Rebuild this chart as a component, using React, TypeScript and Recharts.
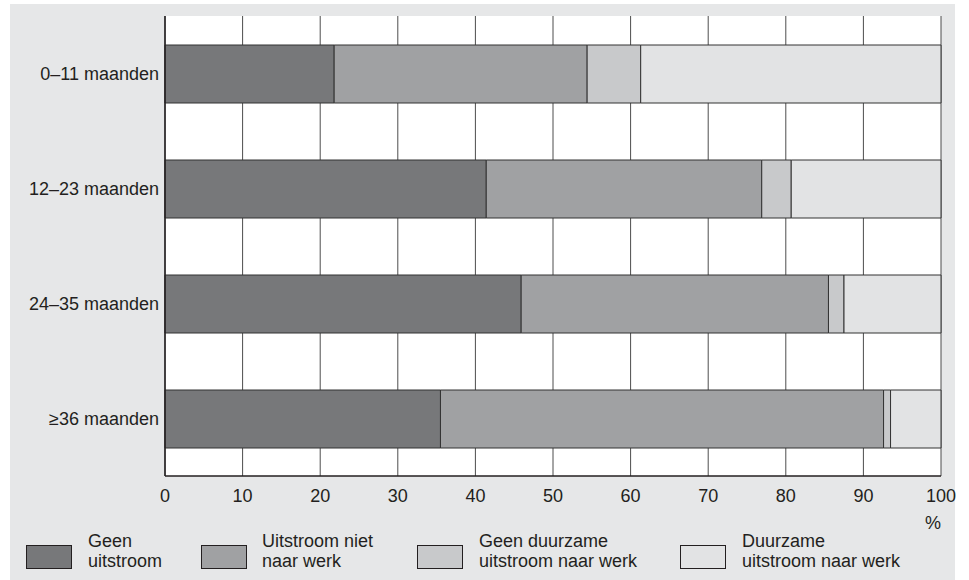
import React from "react";
import { BarChart, Bar, XAxis, YAxis, CartesianGrid } from "recharts";

const categories = ["0–11 maanden", "12–23 maanden", "24–35 maanden", "≥36 maanden"];
const geenUitstroom = [21.8, 41.4, 45.9, 35.5];
const nietNaarWerk = [32.6, 35.5, 39.6, 57.1];
const geenDuurzaam = [6.9, 3.8, 2.0, 0.9];
const duurzaam = [38.7, 19.3, 12.5, 6.5];
const xTicks = [0, 10, 20, 30, 40, 50, 60, 70, 80, 90, 100];

const series = [
  { key: "geen", label: ["Geen", "uitstroom"], color: "#77787a", values: geenUitstroom },
  { key: "niet", label: ["Uitstroom niet", "naar werk"], color: "#a0a1a3", values: nietNaarWerk },
  { key: "geenDuur", label: ["Geen duurzame", "uitstroom naar werk"], color: "#c8c9cb", values: geenDuurzaam },
  { key: "duur", label: ["Duurzame", "uitstroom naar werk"], color: "#e2e3e4", values: duurzaam },
];

// legend item positions (swatch left, text left)
const legendPos = [
  [26, 88],
  [201, 262],
  [417, 479],
  [680, 742],
];

const FONT = '"Liberation Sans", Arial, sans-serif';
const INK = "#231f20";

const data = categories.map((name, i) => {
  const row: Record<string, string | number> = { name };
  series.forEach((s) => (row[s.key] = s.values[i]));
  return row;
});

const App: React.FC = () => {
  return (
    <div style={{ position: "absolute", left: 0, top: 0, width: 969, height: 580, background: "#fff", fontFamily: FONT }}>
      <div style={{ position: "absolute", left: 10, top: 4, width: 945, height: 576, background: "#e6e7e8" }} />
      <div style={{ position: "absolute", left: 0, top: 0 }}>
        <BarChart
          width={969}
          height={580}
          data={data}
          layout="vertical"
          margin={{ top: 16, right: 28, bottom: 0, left: 0 }}
          barSize={58}
        >
          <CartesianGrid horizontal={false} stroke="#4d4d4d" fill="#fff" fillOpacity={1} />
          <XAxis
            type="number"
            domain={[0, 100]}
            ticks={xTicks}
            interval={0}
            height={104}
            tickSize={0}
            tickMargin={13}
            axisLine={{ stroke: INK, strokeWidth: 1.5 }}
            tick={{ fill: INK, fontSize: 18, fontFamily: FONT }}
          />
          <XAxis
            xAxisId="top"
            orientation="top"
            type="number"
            domain={[0, 100]}
            height={0}
            tick={false}
            tickLine={false}
            axisLine={{ stroke: INK, strokeWidth: 1.5 }}
          />
          <YAxis
            type="category"
            dataKey="name"
            width={165}
            tickSize={0}
            tickMargin={6}
            axisLine={{ stroke: INK, strokeWidth: 1.5 }}
            tick={{ fill: INK, fontSize: 18, fontFamily: FONT }}
          />
          <YAxis
            yAxisId="right"
            orientation="right"
            type="category"
            dataKey="name"
            width={0}
            tick={false}
            tickLine={false}
            axisLine={{ stroke: INK, strokeWidth: 1.5 }}
          />
          {series.map((s) => (
            <Bar
              key={s.key}
              dataKey={s.key}
              stackId="a"
              fill={s.color}
              stroke="#333"
              strokeWidth={1}
              isAnimationActive={false}
            />
          ))}
        </BarChart>
      </div>
      <div style={{ position: "absolute", left: 925, top: 513, fontSize: 18, color: INK }}>%</div>
      {series.map((s, i) => (
        <React.Fragment key={s.key}>
          <div
            style={{
              position: "absolute",
              left: legendPos[i][0],
              top: 545,
              width: 44,
              height: 22,
              background: s.color,
              border: `1px solid ${INK}`,
            }}
          />
          <div
            style={{
              position: "absolute",
              left: legendPos[i][1],
              top: 531,
              fontSize: 18,
              lineHeight: "20px",
              color: INK,
              whiteSpace: "nowrap",
            }}
          >
            {s.label[0]}
            <br />
            {s.label[1]}
          </div>
        </React.Fragment>
      ))}
    </div>
  );
};

export default App;
